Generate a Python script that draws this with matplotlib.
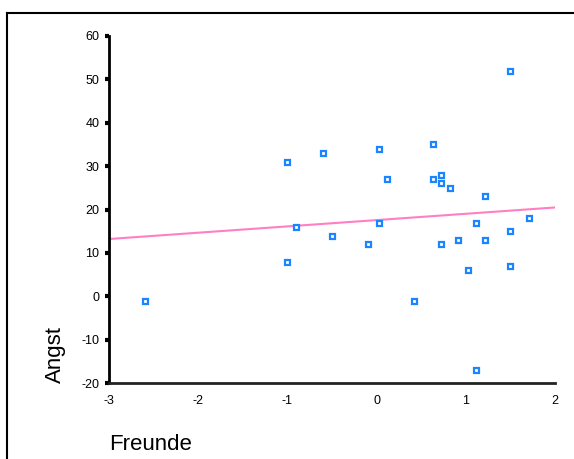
import numpy as np
from matplotlib import pyplot as plt
from matplotlib.lines import Line2D

plt.rcParams['font.family'] = ['Liberation Sans', 'DejaVu Sans']
plt.rcParams['axes.unicode_minus'] = False

# data
freunde = [-2.6, -1.0, -1.0, -0.9, -0.6, -0.5, -0.1, 0.03, 0.03, 0.12,
           0.42, 0.63, 0.63, 0.72, 0.72, 0.82, 0.72, 0.91, 1.02, 1.11,
           1.11, 1.22, 1.22, 1.5, 1.5, 1.5, 1.71]
angst = [-1, 31, 8, 16, 33, 14, 12, 34, 17, 27,
         -1, 35, 27, 28, 26, 25, 12, 13, 6, 17,
         -17, 23, 13, 52, 15, 7, 18]

xticks = [-3, -2, -1, 0, 1, 2]
yticks = [-20, -10, 0, 10, 20, 30, 40, 50, 60]

W, H = 574, 459
fig = plt.figure(figsize=(W / 100, H / 100), dpi=100)
ax = fig.add_axes([109 / W, 1 - 383 / H, (555 - 109) / W, (383 - 36) / H])

# regression line
k, d = np.polyfit(freunde, angst, 1)
xl = np.array([-3, 2])
ax.plot(xl, k * xl + d, color='#ff7fc4', lw=1.5, zorder=2)

ax.plot(freunde, angst, 's', ms=3.6, mfc='white', mec='#1a85ff', mew=1.6,
        ls='none', zorder=3)

ax.set_xlim(-3, 2)
ax.set_ylim(-20, 60)
ax.set_xticks(xticks)
ax.set_yticks(yticks)
ax.spines['top'].set_visible(False)
ax.spines['right'].set_visible(False)
ax.spines['left'].set_linewidth(2)
ax.spines['bottom'].set_linewidth(2)
ax.spines['bottom'].set_color('#222222')
ax.tick_params(axis='y', length=3, width=3, pad=4, labelsize=9)
ax.tick_params(axis='x', length=0, pad=9, labelsize=9)

ax.set_xlabel('Freunde', fontsize=16, loc='left')
ax.xaxis.set_label_coords(0, -(445 - 383) / (383 - 36), transform=ax.transAxes)
ax.xaxis.label.set_va('center')
ax.set_ylabel('Angst', fontsize=16, loc='bottom')
ax.yaxis.set_label_coords(-(109 - 55) / (555 - 109), 0, transform=ax.transAxes)
ax.yaxis.label.set_ha('left')
ax.yaxis.label.set_va('center')
ax.yaxis.label.set_rotation_mode('anchor')

# outer frame (open to the right and bottom)
fig.add_artist(Line2D([6.5 / W, 1], [1 - 12.5 / H] * 2, color='black', lw=1.5,
                      transform=fig.transFigure))
fig.add_artist(Line2D([6.5 / W] * 2, [0, 1 - 12.5 / H], color='black', lw=1.5,
                      transform=fig.transFigure))

fig.savefig('out.png', dpi=100)
